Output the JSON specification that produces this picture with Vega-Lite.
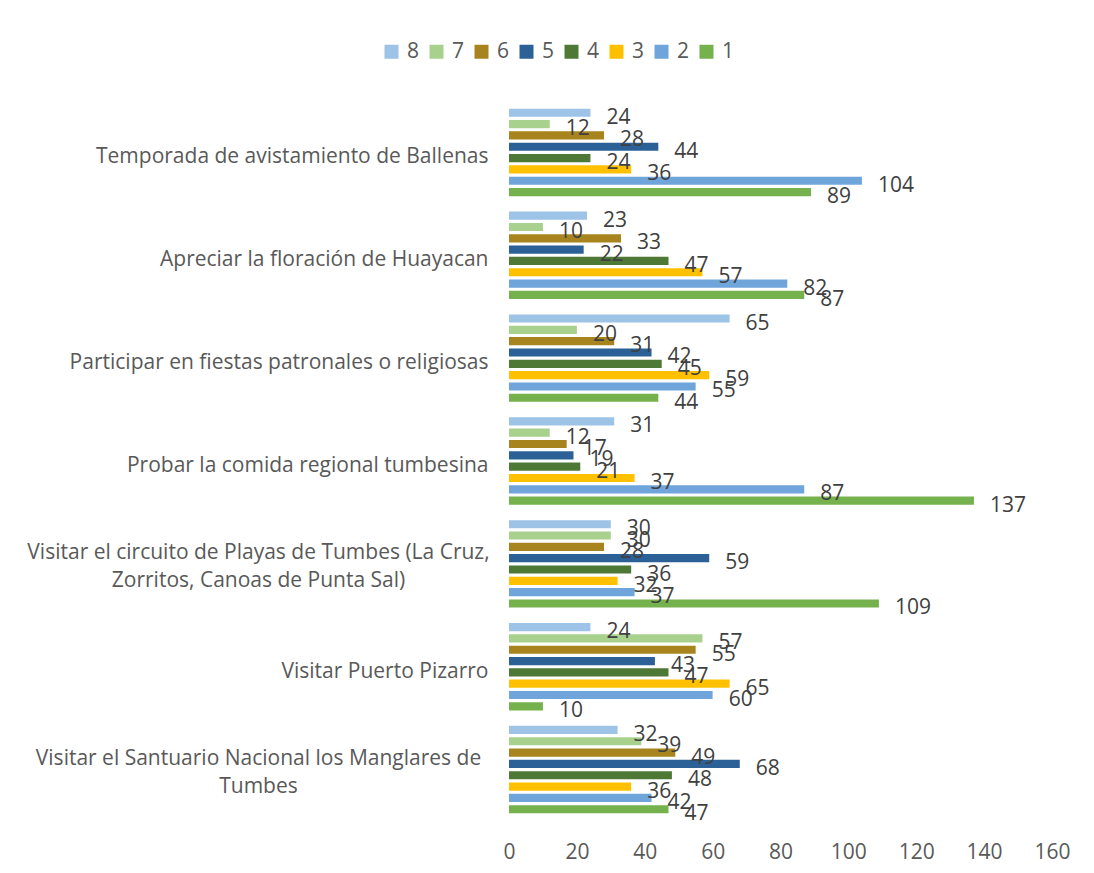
{
  "$schema": "https://vega.github.io/schema/vega-lite/v6.json",
  "width": 543,
  "height": 720,
  "autosize": {"type": "none"},
  "padding": {"left": 509, "top": 101, "right": 42, "bottom": 52},
  "background": "white",
  "config": {
    "font": "Open Sans",
    "view": {"stroke": null},
    "axis": {"labelColor": "#595959", "labelFont": "Open Sans"}
  },
  "data": {
    "values": [
      {"actividad": "Temporada de avistamiento de Ballenas", "serie": "8", "valor": 24},
      {"actividad": "Temporada de avistamiento de Ballenas", "serie": "7", "valor": 12},
      {"actividad": "Temporada de avistamiento de Ballenas", "serie": "6", "valor": 28},
      {"actividad": "Temporada de avistamiento de Ballenas", "serie": "5", "valor": 44},
      {"actividad": "Temporada de avistamiento de Ballenas", "serie": "4", "valor": 24},
      {"actividad": "Temporada de avistamiento de Ballenas", "serie": "3", "valor": 36},
      {"actividad": "Temporada de avistamiento de Ballenas", "serie": "2", "valor": 104},
      {"actividad": "Temporada de avistamiento de Ballenas", "serie": "1", "valor": 89},
      {"actividad": "Apreciar la floración de Huayacan", "serie": "8", "valor": 23},
      {"actividad": "Apreciar la floración de Huayacan", "serie": "7", "valor": 10},
      {"actividad": "Apreciar la floración de Huayacan", "serie": "6", "valor": 33},
      {"actividad": "Apreciar la floración de Huayacan", "serie": "5", "valor": 22},
      {"actividad": "Apreciar la floración de Huayacan", "serie": "4", "valor": 47},
      {"actividad": "Apreciar la floración de Huayacan", "serie": "3", "valor": 57},
      {"actividad": "Apreciar la floración de Huayacan", "serie": "2", "valor": 82},
      {"actividad": "Apreciar la floración de Huayacan", "serie": "1", "valor": 87},
      {"actividad": "Participar en fiestas patronales o religiosas", "serie": "8", "valor": 65},
      {"actividad": "Participar en fiestas patronales o religiosas", "serie": "7", "valor": 20},
      {"actividad": "Participar en fiestas patronales o religiosas", "serie": "6", "valor": 31},
      {"actividad": "Participar en fiestas patronales o religiosas", "serie": "5", "valor": 42},
      {"actividad": "Participar en fiestas patronales o religiosas", "serie": "4", "valor": 45},
      {"actividad": "Participar en fiestas patronales o religiosas", "serie": "3", "valor": 59},
      {"actividad": "Participar en fiestas patronales o religiosas", "serie": "2", "valor": 55},
      {"actividad": "Participar en fiestas patronales o religiosas", "serie": "1", "valor": 44},
      {"actividad": "Probar la comida regional tumbesina", "serie": "8", "valor": 31},
      {"actividad": "Probar la comida regional tumbesina", "serie": "7", "valor": 12},
      {"actividad": "Probar la comida regional tumbesina", "serie": "6", "valor": 17},
      {"actividad": "Probar la comida regional tumbesina", "serie": "5", "valor": 19},
      {"actividad": "Probar la comida regional tumbesina", "serie": "4", "valor": 21},
      {"actividad": "Probar la comida regional tumbesina", "serie": "3", "valor": 37},
      {"actividad": "Probar la comida regional tumbesina", "serie": "2", "valor": 87},
      {"actividad": "Probar la comida regional tumbesina", "serie": "1", "valor": 137},
      {"actividad": "Visitar el circuito de Playas de Tumbes (La Cruz, Zorritos, Canoas de Punta Sal)", "serie": "8", "valor": 30},
      {"actividad": "Visitar el circuito de Playas de Tumbes (La Cruz, Zorritos, Canoas de Punta Sal)", "serie": "7", "valor": 30},
      {"actividad": "Visitar el circuito de Playas de Tumbes (La Cruz, Zorritos, Canoas de Punta Sal)", "serie": "6", "valor": 28},
      {"actividad": "Visitar el circuito de Playas de Tumbes (La Cruz, Zorritos, Canoas de Punta Sal)", "serie": "5", "valor": 59},
      {"actividad": "Visitar el circuito de Playas de Tumbes (La Cruz, Zorritos, Canoas de Punta Sal)", "serie": "4", "valor": 36},
      {"actividad": "Visitar el circuito de Playas de Tumbes (La Cruz, Zorritos, Canoas de Punta Sal)", "serie": "3", "valor": 32},
      {"actividad": "Visitar el circuito de Playas de Tumbes (La Cruz, Zorritos, Canoas de Punta Sal)", "serie": "2", "valor": 37},
      {"actividad": "Visitar el circuito de Playas de Tumbes (La Cruz, Zorritos, Canoas de Punta Sal)", "serie": "1", "valor": 109},
      {"actividad": "Visitar Puerto Pizarro", "serie": "8", "valor": 24},
      {"actividad": "Visitar Puerto Pizarro", "serie": "7", "valor": 57},
      {"actividad": "Visitar Puerto Pizarro", "serie": "6", "valor": 55},
      {"actividad": "Visitar Puerto Pizarro", "serie": "5", "valor": 43},
      {"actividad": "Visitar Puerto Pizarro", "serie": "4", "valor": 47},
      {"actividad": "Visitar Puerto Pizarro", "serie": "3", "valor": 65},
      {"actividad": "Visitar Puerto Pizarro", "serie": "2", "valor": 60},
      {"actividad": "Visitar Puerto Pizarro", "serie": "1", "valor": 10},
      {"actividad": "Visitar el Santuario Nacional los Manglares de Tumbes", "serie": "8", "valor": 32},
      {"actividad": "Visitar el Santuario Nacional los Manglares de Tumbes", "serie": "7", "valor": 39},
      {"actividad": "Visitar el Santuario Nacional los Manglares de Tumbes", "serie": "6", "valor": 49},
      {"actividad": "Visitar el Santuario Nacional los Manglares de Tumbes", "serie": "5", "valor": 68},
      {"actividad": "Visitar el Santuario Nacional los Manglares de Tumbes", "serie": "4", "valor": 48},
      {"actividad": "Visitar el Santuario Nacional los Manglares de Tumbes", "serie": "3", "valor": 36},
      {"actividad": "Visitar el Santuario Nacional los Manglares de Tumbes", "serie": "2", "valor": 42},
      {"actividad": "Visitar el Santuario Nacional los Manglares de Tumbes", "serie": "1", "valor": 47}
    ]
  },
  "encoding": {
    "y": {
      "field": "actividad",
      "type": "nominal",
      "sort": null,
      "scale": {"paddingInner": 0.15, "paddingOuter": 0.075},
      "axis": {
        "title": null,
        "domain": false,
        "ticks": false,
        "labelFontSize": 21,
        "labelPadding": {"condition": {"test": "length(datum.value) > 50", "value": 251}, "value": 21},
        "labelAlign": {"condition": {"test": "length(datum.value) > 50", "value": "center"}, "value": "right"},
        "labelOffset": {"condition": {"test": "length(datum.value) > 50", "value": -11}, "value": 5},
        "labelLimit": 520,
        "labelLineHeight": 28,
        "labelExpr": "datum.label == 'Visitar el circuito de Playas de Tumbes (La Cruz, Zorritos, Canoas de Punta Sal)' ? ['Visitar el circuito de Playas de Tumbes (La Cruz,', 'Zorritos, Canoas de Punta Sal)'] : datum.label == 'Visitar el Santuario Nacional los Manglares de Tumbes' ? ['Visitar el Santuario Nacional los Manglares de', 'Tumbes'] : datum.label"
      }
    },
    "yOffset": {
      "field": "serie",
      "type": "nominal",
      "sort": ["8", "7", "6", "5", "4", "3", "2", "1"],
      "scale": {"paddingInner": 0.28}
    },
    "x": {
      "field": "valor",
      "type": "quantitative",
      "scale": {"domain": [0, 160]},
      "axis": {
        "title": null,
        "values": [0, 20, 40, 60, 80, 100, 120, 140, 160],
        "grid": false,
        "domain": false,
        "ticks": false,
        "labelFontSize": 21,
        "labelPadding": 20,
        "labelFlush": false
      }
    }
  },
  "layer": [
    {
      "mark": {"type": "bar"},
      "encoding": {
        "color": {
          "field": "serie",
          "type": "nominal",
          "sort": ["8", "7", "6", "5", "4", "3", "2", "1"],
          "scale": {
            "domain": ["8", "7", "6", "5", "4", "3", "2", "1"],
            "range": ["#9DC3E6", "#A9D18E", "#A8841E", "#2B6196", "#4E7835", "#FFC000", "#6FA5DB", "#75B14C"]
          },
          "legend": {
            "title": null,
            "orient": "none",
            "legendX": -128,
            "legendY": -60,
            "direction": "horizontal",
            "symbolType": "square",
            "symbolSize": 196,
            "symbolStrokeWidth": 0,
            "labelFontSize": 21,
            "labelColor": "#595959",
            "labelOffset": 5,
            "columnPadding": 6
          }
        }
      }
    },
    {
      "mark": {"type": "text", "align": "left", "baseline": "middle", "dx": 16, "dy": 5, "fontSize": 21, "color": "#404040"},
      "encoding": {"text": {"field": "valor", "type": "quantitative"}}
    }
  ]
}
